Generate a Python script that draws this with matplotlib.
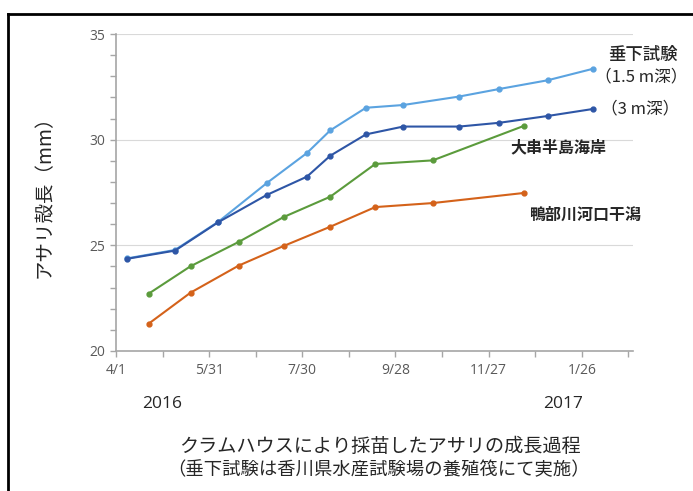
import datetime as dt
import matplotlib
matplotlib.use("Agg")
import matplotlib.pyplot as plt
import matplotlib.dates as mdates
from matplotlib.ticker import FixedLocator, FuncFormatter, MultipleLocator
from matplotlib.lines import Line2D

plt.rcParams['font.family'] = ['Noto Sans CJK JP', 'DejaVu Sans']

# 垂下試験の測定日（1.5 m深, 3 m深 共通）
hang_dates = ['2016-04-08', '2016-05-09', '2016-06-06', '2016-07-07', '2016-08-02',
              '2016-08-17', '2016-09-09', '2016-10-03', '2016-11-08', '2016-12-04',
              '2017-01-04', '2017-02-02']
hang_15m = [24.38, 24.78, 26.12, 27.94, 29.37, 30.44, 31.51, 31.64, 32.04, 32.40, 32.81, 33.35]
hang_3m = [24.36, 24.75, 26.10, 27.38, 28.25, 29.24, 30.25, 30.62, 30.62, 30.80, 31.12, 31.45]

# 干潟・海岸の測定日
shore_dates = ['2016-04-22', '2016-05-19', '2016-06-19', '2016-07-18', '2016-08-17',
               '2016-09-15', '2016-10-22', '2016-12-20']
ogushi = [22.71, 24.01, 25.16, 26.34, 27.30, 28.85, 29.02, 30.66]
kabe = [21.29, 22.76, 24.04, 24.97, 25.88, 26.81, 27.00, 27.48]

series_labels = ['垂下試験', '（1.5 m深）', '（3 m深）', '大串半島海岸', '鴨部川河口干潟']
year_labels = ['2016', '2017']

W, H = 693, 491
fig = plt.figure(figsize=(W / 100, H / 100), dpi=100)
ax = fig.add_axes([116 / W, 1 - 351 / H, (633 - 116) / W, (351 - 34) / H])

to_num = lambda ds: [mdates.date2num(dt.datetime.strptime(d, '%Y-%m-%d')) for d in ds]
x_hang = to_num(hang_dates)
x_shore = to_num(shore_dates)

ax.plot(x_hang, hang_15m, color='#5BA3E0', lw=1.5, marker='o', ms=3.5, zorder=3)
ax.plot(x_hang, hang_3m, color='#2E56A6', lw=1.5, marker='o', ms=3.5, zorder=4)
ax.plot(x_shore, ogushi, color='#5B9B3C', lw=1.5, marker='o', ms=3.5, zorder=3)
ax.plot(x_shore, kabe, color='#D4621A', lw=1.5, marker='o', ms=3.5, zorder=3)

# 軸の設定（Excel風、60日間隔）
start = mdates.date2num(dt.datetime(2016, 4, 1))
ax.set_xlim(start, start + 333)
ax.set_ylim(20, 35)
ax.xaxis.set_major_locator(FixedLocator([start + 60 * k for k in range(6)]))
ax.xaxis.set_minor_locator(FixedLocator([start + 30 + 60 * k for k in range(6)]))
ax.xaxis.set_major_formatter(FuncFormatter(
    lambda v, p: f"{mdates.num2date(v).month}/{mdates.num2date(v).day}"))
ax.yaxis.set_major_locator(MultipleLocator(5))
ax.yaxis.set_minor_locator(MultipleLocator(1))

ax.grid(axis='y', which='major', color='#D9D9D9', lw=0.8)
ax.set_axisbelow(True)
for s in ['top', 'right']:
    ax.spines[s].set_visible(False)
for s in ['left', 'bottom']:
    ax.spines[s].set_color('#A6A6A6')
    ax.spines[s].set_linewidth(1.2)
ax.tick_params(which='both', direction='out', color='#A6A6A6', length=4, width=1)
ax.tick_params(axis='both', labelcolor='#595959', labelsize=10,
               labelfontfamily='Open Sans')
ax.tick_params(axis='x', pad=5)


def ftext(x, y, s, **kw):
    fig.text(x / W, 1 - y / H, s, ha='center', va='center', color='#262626', **kw)


# 縦軸タイトル
ftext(44, 192, 'アサリ殻長（mm）', fontsize=14, rotation=90)

# 系列ラベル
ftext(643, 55, series_labels[0], fontsize=12.5, fontweight='medium')
ftext(641, 77, series_labels[1], fontsize=12)
ftext(640, 109, series_labels[2], fontsize=12)
ftext(558, 147, series_labels[3], fontsize=11.5, fontweight='bold')
ftext(585, 215, series_labels[4], fontsize=11.5, fontweight='bold')

ftext(162, 404, year_labels[0], fontsize=12.5, family='Open Sans')
ftext(563, 404, year_labels[1], fontsize=12.5, family='Open Sans')

ftext(380, 447, 'クラムハウスにより採苗したアサリの成長過程', fontsize=13.8)
ftext(379, 470, '（垂下試験は香川県水産試験場の養殖筏にて実施）', fontsize=13.2)

# 画像の枠線（左と上）
fig.add_artist(Line2D([8 / W, 8 / W], [0, 1 - 14 / H], color='black', lw=2,
                      transform=fig.transFigure))
fig.add_artist(Line2D([8 / W, 1], [1 - 14 / H, 1 - 14 / H], color='black', lw=2,
                      transform=fig.transFigure))

fig.savefig('out.png', dpi=100)
